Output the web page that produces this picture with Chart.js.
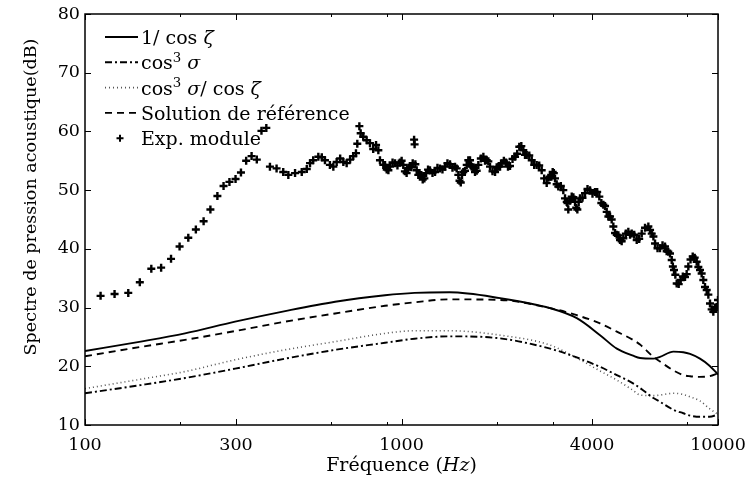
<!DOCTYPE html>
<html>
<head>
<meta charset="utf-8">
<script src="https://cdn.jsdelivr.net/npm/chart.js@4.4.0/dist/chart.umd.min.js"></script>
<style>
  html, body { margin: 0; padding: 0; background: #fff; }
  #wrap { width: 750px; height: 490px; }
</style>
</head>
<body>
<div id="wrap"><canvas id="graf" width="750" height="490"></canvas></div>
<script>
const FUENTE = '"DejaVu Serif", "Liberation Serif", serif';

// abscisses des courbes calculées (Hz)
const freqCourbes = [100, 150, 207, 298, 429, 617, 887, 1100, 1420, 2050, 2950, 3580, 4240, 4790, 5390, 5670, 6250, 6560, 7230, 7770, 8160, 8770, 9400, 10000];
const unSurCosZeta = [22.6, 24.2, 25.6, 27.6, 29.4, 31.0, 32.1, 32.5, 32.6, 31.6, 29.9, 28.2, 25.3, 23.0, 21.8, 21.4, 21.3, 21.6, 22.5, 22.4, 22.1, 21.3, 20.1, 18.6];
const cos3Sigma = [15.4, 16.8, 18.0, 19.6, 21.3, 22.8, 24.0, 24.7, 25.1, 24.75, 23.0, 21.5, 19.9, 18.5, 17.1, 16.3, 14.6, 13.95, 12.6, 12.0, 11.6, 11.4, 11.4, 11.8];
const cos3SigmaSurCosZeta = [16.2, 17.8, 19.1, 21.1, 22.8, 24.2, 25.6, 26.05, 26.05, 25.3, 23.6, 21.4, 19.2, 17.65, 15.9, 15.1, 15.0, 15.1, 15.4, 15.2, 14.8, 14.1, 12.8, 11.8];
const solutionRef = [21.7, 23.3, 24.5, 26.0, 27.6, 29.0, 30.3, 30.9, 31.4, 31.3, 29.9, 28.7, 27.3, 25.9, 24.5, 23.7, 21.6, 20.8, 19.3, 18.5, 18.3, 18.2, 18.3, 18.8];

// mesures (module expérimental)
const expFreq = [112, 124, 137, 149, 162, 174, 187, 199, 212, 224, 237, 249, 262, 274, 286, 299, 311, 323, 336, 349, 361, 374,
  384, 403, 423, 439, 461, 484, 502, 514, 526, 546, 560, 573, 594, 609, 624, 640, 655, 671, 688, 704, 718, 725, 736, 743, 757, 776, 795, 814, 831, 845, 855, 876, 898, 920, 954, 989,
  1013, 1038, 1064, 1085, 1096, 1100, 1117, 1144, 1167, 1196, 1230, 1276, 1323, 1372, 1423, 1476, 1512, 1539, 1568, 1607, 1646, 1667, 1707, 1749, 1814, 1859, 1904, 1975,
  2023, 2073, 2139, 2202, 2284, 2356, 2426, 2487, 2579, 2674, 2773, 2876, 2946, 3004, 3055, 3129, 3245, 3327, 3365, 3450, 3534, 3594, 3664, 3800, 3941,
  4087, 4217, 4342, 4450, 4559, 4670, 4786, 4903, 5022, 5208, 5338, 5536, 5741, 6025, 6175, 6325, 6558, 6801, 6966, 7141, 7261, 7405, 7623, 7866,
  8058, 8320, 8565, 8773, 8987, 9211, 9434, 9665, 9906, 10000];
const expDb = [32.0, 32.3, 32.5, 34.3, 36.6, 36.8, 38.3, 40.4, 41.9, 43.3, 44.7, 46.7, 49.0, 50.7, 51.4, 51.9, 53.0, 55.0, 55.8, 55.2, 60.1, 60.6,
  54.0, 53.7, 53.1, 52.6, 52.9, 53.1, 53.6, 54.6, 55.1, 55.7, 55.6, 55.1, 54.3, 54.0, 54.8, 55.4, 54.8, 54.6, 55.2, 55.8, 56.3, 57.9, 60.9, 59.7, 59.1, 58.5, 58.0, 57.0, 57.7, 56.8, 55.1, 54.3, 53.5, 54.0, 54.6, 54.7,
  54.3, 52.9, 54.0, 54.6, 58.6, 57.8, 53.4, 52.6, 51.8, 52.9, 53.4, 53.1, 53.7, 54.0, 54.4, 54.0, 52.6, 51.3, 53.1, 54.3, 55.1, 54.0, 53.1, 54.3, 55.7, 55.1, 54.0, 53.1,
  54.0, 54.6, 54.7, 54.1, 55.7, 57.4, 56.8, 56.0, 55.1, 54.3, 53.4, 51.2, 52.3, 53.1, 52.0, 50.6, 50.0, 48.0, 46.7, 48.9, 48.0, 46.7, 48.6, 49.5, 50.0,
  49.7, 48.9, 47.5, 46.3, 45.5, 43.8, 42.4, 41.5, 41.8, 42.9, 42.6, 41.5, 42.6, 43.8, 42.6, 40.9, 40.1, 40.4, 39.5, 38.1, 36.4, 34.1, 34.7, 35.2,
  37.0, 38.7, 37.8, 36.4, 34.7, 33.0, 30.7, 29.3, 30.1, 31.3];
// relevés intermédiaires dans la partie dense (au-dessus de 850 Hz)
const expFreqDense = [887, 909, 937, 971, 1001, 1025, 1051, 1074, 1106, 1130, 1155, 1181, 1213, 1253, 1299, 1347, 1397, 1449, 1494, 1525, 1553, 1587, 1626, 1656, 1687, 1728, 1781, 1836, 1881, 1939,
  1999, 2048, 2106, 2170, 2243, 2320, 2391, 2456, 2533, 2626, 2723, 2824, 2911, 2975, 3029, 3092, 3187, 3286, 3346, 3407, 3492, 3564, 3629, 3731, 3870,
  4013, 4152, 4279, 4396, 4504, 4614, 4728, 4844, 4962, 5114, 5273, 5436, 5637, 5881, 6100, 6250, 6441, 6679, 6883, 7053, 7201, 7332, 7513, 7743, 7962,
  8188, 8441, 8668, 8879, 9098, 9322, 9549, 9785];
const expDbDense = [54.3, 53.4, 54.7, 54.2, 55.0, 53.2, 53.8, 53.9, 54.4, 52.6, 52.6, 52.0, 53.5, 52.9, 53.8, 53.5, 54.6, 53.8, 53.7, 51.6, 52.6, 53.3, 55.1, 54.2, 53.9, 53.3, 55.4, 55.0, 54.9, 53.2,
  53.9, 54.0, 55.0, 54.0, 55.3, 56.2, 57.5, 56.0, 55.9, 54.3, 54.2, 52.0, 52.1, 52.3, 52.9, 51.0, 50.7, 48.6, 47.8, 48.2, 48.8, 47.0, 48.0, 48.7, 50.2,
  49.4, 49.7, 47.8, 47.3, 45.5, 45.0, 42.7, 42.3, 41.3, 42.6, 42.4, 42.4, 41.7, 43.6, 43.2, 42.1, 40.1, 40.6, 39.6, 39.2, 37.0, 35.6, 34.0, 35.3, 35.7,
  38.2, 38.5, 36.9, 35.8, 33.5, 32.2, 29.7, 30.0];

const xTicks = [100, 300, 1000, 4000, 10000];
const xTicksMineurs = [200, 600, 900, 2000, 3000, 8000];
const yTicks = [10, 20, 30, 40, 50, 60, 70, 80];

const titreY = 'Spectre de pression acoustique(dB)';
const titreX = [['Fréquence (', 'r'], ['Hz', 'i'], [')', 'r']];
const legende = [
  [['1/ cos ', 'r'], ['ζ', 'i']],
  [['cos', 'r'], ['3', 's'], [' σ', 'i']],
  [['cos', 'r'], ['3', 's'], [' σ', 'i'], ['/ cos ', 'r'], ['ζ', 'i']],
  [['Solution de référence', 'r']],
  [['Exp. module', 'r']]
];

function paires(xs, ys) {
  return xs.map((x, i) => ({ x: x, y: ys[i] }));
}

function texteRiche(ctx, segs, x, y, taille, centre) {
  let largeur = 0;
  const mesures = segs.map(s => {
    const f = (s[1] === 'i' ? 'italic ' : '') + (s[1] === 's' ? taille * 0.7 : taille) + 'px ' + FUENTE;
    ctx.font = f;
    const w = ctx.measureText(s[0]).width;
    largeur += w;
    return { t: s[0], f: f, w: w, dy: s[1] === 's' ? -taille * 0.38 : 0 };
  });
  if (centre) x -= largeur / 2;
  ctx.textAlign = 'left';
  ctx.textBaseline = 'alphabetic';
  mesures.forEach(m => {
    ctx.font = m.f;
    ctx.fillText(m.t, x, y + m.dy);
    x += m.w;
  });
}

const cadre = {
  id: 'cadre',
  afterDraw(chart) {
    const ctx = chart.ctx;
    const a = chart.chartArea;
    const sx = chart.scales.x, sy = chart.scales.y;
    ctx.save();
    ctx.strokeStyle = '#000';
    ctx.fillStyle = '#000';
    ctx.lineWidth = 1.5;
    ctx.setLineDash([]);
    ctx.strokeRect(a.left, a.top, a.right - a.left, a.bottom - a.top);
    ctx.lineWidth = 1;
    ctx.beginPath();
    xTicks.forEach(v => {
      const px = Math.round(sx.getPixelForValue(v)) + 0.5;
      ctx.moveTo(px, a.bottom); ctx.lineTo(px, a.bottom - 6);
      ctx.moveTo(px, a.top); ctx.lineTo(px, a.top + 6);
    });
    xTicksMineurs.forEach(v => {
      const px = Math.round(sx.getPixelForValue(v)) + 0.5;
      ctx.moveTo(px, a.bottom); ctx.lineTo(px, a.bottom - 3);
      ctx.moveTo(px, a.top); ctx.lineTo(px, a.top + 3);
    });
    yTicks.forEach(v => {
      const py = Math.round(sy.getPixelForValue(v)) + 0.5;
      ctx.moveTo(a.left, py); ctx.lineTo(a.left + 6, py);
      ctx.moveTo(a.right, py); ctx.lineTo(a.right - 6, py);
    });
    ctx.stroke();

    // légende
    const ds = chart.data.datasets;
    legende.forEach((segs, i) => {
      const yc = 37 + i * 25.3;
      const d = ds[i];
      ctx.strokeStyle = d.borderColor;
      ctx.lineWidth = d.borderWidth;
      if (d.showLine) {
        ctx.setLineDash(d.borderDash || []);
        ctx.beginPath();
        ctx.moveTo(105, yc); ctx.lineTo(138, yc);
        ctx.stroke();
      } else {
        ctx.setLineDash([]);
        ctx.lineWidth = 2;
        ctx.strokeStyle = '#000';
        ctx.beginPath();
        ctx.moveTo(116.5, yc); ctx.lineTo(123.5, yc);
        ctx.moveTo(120, yc - 3.5); ctx.lineTo(120, yc + 3.5);
        ctx.stroke();
      }
      ctx.fillStyle = '#000';
      texteRiche(ctx, segs, 141, yc + 7, 19, false);
    });

    // titres des axes
    texteRiche(ctx, titreX, (a.left + a.right) / 2, 471, 19, true);
    ctx.translate(36, 197);
    ctx.rotate(-Math.PI / 2);
    ctx.font = '17.5px ' + FUENTE;
    ctx.textAlign = 'center';
    ctx.textBaseline = 'alphabetic';
    ctx.fillText(titreY, 0, 0);
    ctx.restore();
  }
};

new Chart(document.getElementById('graf'), {
  type: 'scatter',
  plugins: [cadre],
  data: {
    datasets: [
      { label: '1/ cos ζ', data: paires(freqCourbes, unSurCosZeta), showLine: true, borderColor: '#000', borderWidth: 1.9, pointRadius: 0, cubicInterpolationMode: 'monotone' },
      { label: 'cos³ σ', data: paires(freqCourbes, cos3Sigma), showLine: true, borderColor: '#000', borderWidth: 1.9, borderDash: [7, 3, 2, 3], pointRadius: 0, cubicInterpolationMode: 'monotone' },
      { label: 'cos³ σ/ cos ζ', data: paires(freqCourbes, cos3SigmaSurCosZeta), showLine: true, borderColor: '#555', borderWidth: 1.6, borderDash: [1, 3], pointRadius: 0, cubicInterpolationMode: 'monotone' },
      { label: 'Solution de référence', data: paires(freqCourbes, solutionRef), showLine: true, borderColor: '#000', borderWidth: 1.9, borderDash: [7, 5], pointRadius: 0, cubicInterpolationMode: 'monotone' },
      { label: 'Exp. module', data: paires(expFreq, expDb).concat(paires(expFreqDense, expDbDense)), showLine: false, borderColor: '#000', borderWidth: 2.4, pointStyle: 'cross', pointRadius: 4, pointHoverRadius: 4 }
    ]
  },
  options: {
    responsive: false,
    animation: false,
    layout: { padding: { top: 14, right: 32, left: 0, bottom: 0 } },
    plugins: { legend: { display: false }, tooltip: { enabled: false } },
    scales: {
      x: {
        type: 'logarithmic', min: 100, max: 10000,
        grid: { display: false, drawTicks: false },
        border: { display: false },
        afterBuildTicks: s => { s.ticks = xTicks.map(v => ({ value: v })); },
        afterFit: s => { s.height = 65; s.paddingLeft = 0; s.paddingRight = 0; },
        ticks: { autoSkip: false, maxRotation: 0, padding: 10, color: '#000', font: { family: FUENTE, size: 17.5 }, callback: v => String(v) }
      },
      y: {
        min: 10, max: 80,
        grid: { display: false, drawTicks: false },
        border: { display: false },
        afterBuildTicks: s => { s.ticks = yTicks.map(v => ({ value: v })); },
        afterFit: s => { s.width = 85; s.paddingTop = 0; s.paddingBottom = 0; },
        ticks: { padding: 5, color: '#000', font: { family: FUENTE, size: 17.5 } }
      }
    }
  }
});
</script>
</body>
</html>
